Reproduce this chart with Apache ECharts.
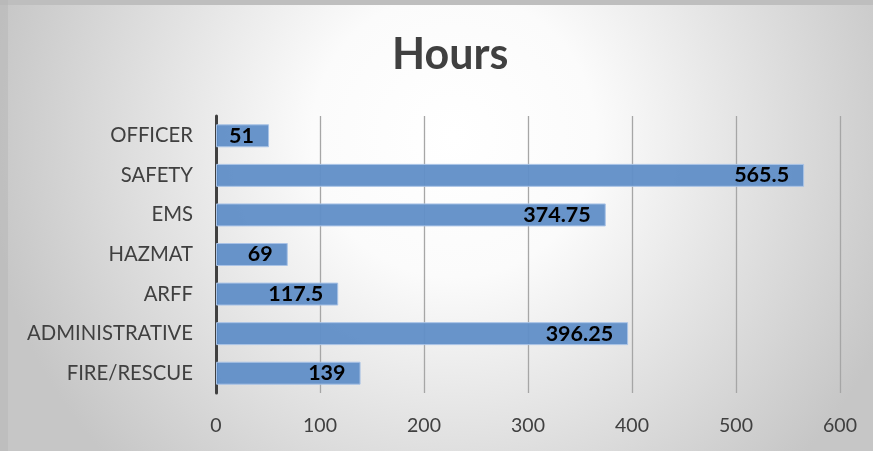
<!DOCTYPE html>
<html>
<head>
<meta charset="utf-8">
<script src="https://cdn.jsdelivr.net/npm/echarts@6/dist/echarts.min.js"></script>
<style>
html,body{margin:0;padding:0;background:#c8c8c8;}
#c{width:873px;height:451px;}
</style>
</head>
<body>
<div id="c"></div>
<script>
var categories = ['FIRE/RESCUE', 'ADMINISTRATIVE', 'ARFF', 'HAZMAT', 'EMS', 'SAFETY', 'OFFICER'];
var hours = [139, 396.25, 117.5, 69, 374.75, 565.5, 51];
var titleText = 'Hours';
var axisMin = 0, axisMax = 600, axisStep = 100;

var chart = echarts.init(document.getElementById('c'), null, {renderer: 'canvas'});
chart.setOption({
  backgroundColor: {
    type: 'radial', x: 0.52, y: 0.3, r: 1.05,
    colorStops: [
      {offset: 0, color: '#ffffff'},
      {offset: 0.3, color: '#fbfbfb'},
      {offset: 1, color: '#c6c6c6'}
    ]
  },
  graphic: [
    {type: 'rect', left: 0, top: 0, shape: {width: 873, height: 5}, style: {fill: '#bebebe'}, z: 100},
    {type: 'rect', left: 0, top: 0, shape: {width: 8, height: 451}, style: {fill: 'rgba(180,180,180,0.45)'}, z: 100}
  ],
  title: {
    text: titleText, left: 387, top: 29,
    textStyle: {fontFamily: 'Lato', fontWeight: 'bold', fontSize: 43, color: '#404040'}
  },
  grid: {left: 216, right: 33, top: 116, bottom: 58, containLabel: false},
  xAxis: {
    type: 'value', min: axisMin, max: axisMax, interval: axisStep,
    axisLine: {show: false}, axisTick: {show: false},
    splitLine: {show: true, lineStyle: {color: '#a6a6a6', width: 1.3}},
    axisLabel: {fontFamily: 'Lato', fontSize: 19.5, color: '#404040', margin: 23}
  },
  yAxis: {
    type: 'category', data: categories,
    axisLine: {show: true, lineStyle: {color: '#404040', width: 3}},
    axisTick: {show: false},
    axisLabel: {fontFamily: 'Lato', fontSize: 20.3, color: '#404040', margin: 23}
  },
  series: [{
    type: 'bar', data: hours, barWidth: '58%',
    itemStyle: {color: 'rgba(96,142,199,0.95)', borderColor: '#a9c3e6', borderWidth: 1},
    label: {
      show: true, position: 'insideRight', distance: 15,
      fontFamily: 'Lato', fontWeight: 'bold', fontSize: 21.5, color: '#000000'
    }
  }],
  animation: false
});
</script>
</body>
</html>
